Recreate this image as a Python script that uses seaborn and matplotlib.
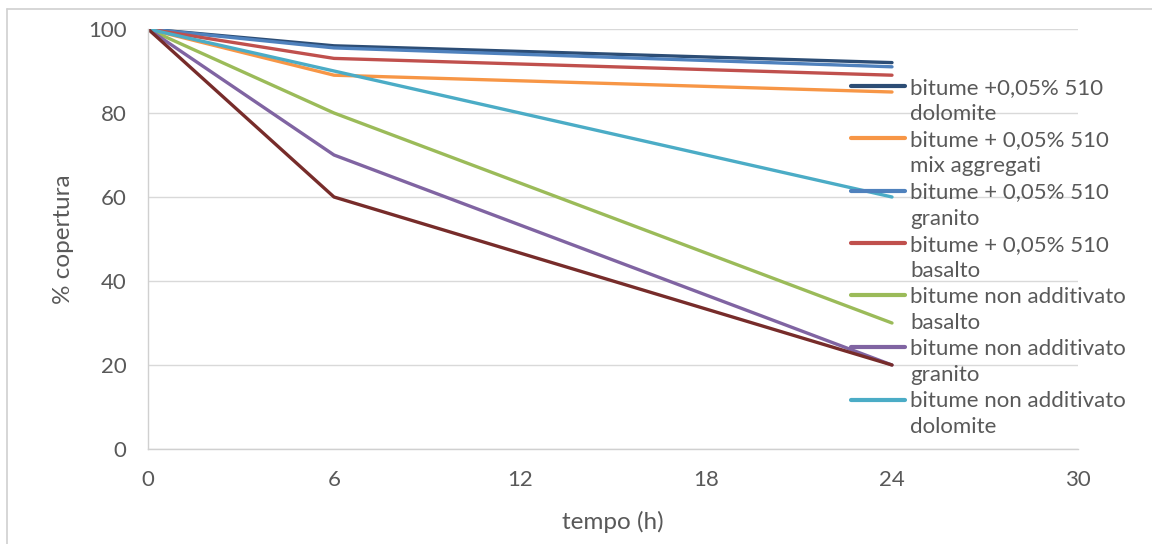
import matplotlib
matplotlib.use("Agg")
import matplotlib.pyplot as plt
import seaborn as sns
import pandas as pd
from matplotlib.lines import Line2D

# ---- data ----
tempo = [0, 6, 24]
series_names = [
    "bitume +0,05% 510\ndolomite",
    "bitume + 0,05% 510\nmix aggregati",
    "bitume + 0,05% 510\ngranito",
    "bitume + 0,05% 510\nbasalto",
    "bitume non additivato\nbasalto",
    "bitume non additivato\ngranito",
    "bitume non additivato\ndolomite",
    "bitume non additivato\nmix aggregati",
]
add_dolomite = [100, 96, 92]
add_mix = [100, 89, 85]
add_granito = [100, 95.5, 91]
add_basalto = [100, 93, 89]
non_basalto = [100, 80, 30]
non_granito = [100, 70, 20]
non_dolomite = [100, 90, 60]
non_mix = [100, 60, 20]
values = [add_dolomite, add_mix, add_granito, add_basalto,
          non_basalto, non_granito, non_dolomite, non_mix]
colors = ["#2C4D75", "#F79646", "#4F81BD", "#C0504D",
          "#9BBB59", "#8064A2", "#4BACC6", "#772C2A"]
x_ticks = [0, 6, 12, 18, 24, 30]
y_ticks = [0, 20, 40, 60, 80, 100]

rows = []
for name, vals in zip(series_names, values):
    for t, v in zip(tempo, vals):
        rows.append({"tempo": t, "copertura": v, "serie": name})
df = pd.DataFrame(rows)

sns.set_theme(style="white")
plt.rcParams["font.family"] = ["Lato", "DejaVu Sans"]

W, H = 1152, 544
fig = plt.figure(figsize=(W / 100, H / 100), dpi=100)
ax = fig.add_axes([148 / W, 1 - 449 / H, (1078 - 148) / W, (449 - 29) / H])

sns.lineplot(data=df, x="tempo", y="copertura", hue="serie",
             hue_order=series_names, palette=colors, linewidth=2.4,
             legend=False, ax=ax, sort=False)

ax.set_xlim(0, 30)
ax.set_ylim(0, 100)
ax.set_xticks(x_ticks)
ax.set_yticks(y_ticks)
ax.yaxis.grid(True, color="#D9D9D9", linewidth=1.0)
ax.xaxis.grid(False)
ax.set_axisbelow(True)
for s in ["top", "right"]:
    ax.spines[s].set_visible(False)
for s in ["left", "bottom"]:
    ax.spines[s].set_color("#D0D0D0")
    ax.spines[s].set_linewidth(1.0)
ax.tick_params(axis="both", length=0, labelsize=16, colors="#595959")
ax.tick_params(axis="y", pad=15.5)
ax.tick_params(axis="x", pad=15)
ax.set_xlabel("tempo (h)", fontsize=17.5, color="#595959", labelpad=15)
ax.set_ylabel("% copertura", fontsize=17.5, color="#595959", labelpad=10)

# legend (first 7 series, two-line labels with handle on first line)
handles, labels = [], []
for name, col in zip(series_names[:7], colors[:7]):
    l1, l2 = name.split("\n")
    handles.append(Line2D([], [], color=col, linewidth=3))
    labels.append(l1)
    handles.append(Line2D([], [], color="none", linewidth=0))
    labels.append(l2)
leg = fig.legend(handles, labels, loc="upper left",
                 bbox_to_anchor=(851 / W, 1 - 78 / H), frameon=False,
                 fontsize=16, handlelength=2.45, handletextpad=0.22,
                 labelspacing=0.275, borderpad=0, borderaxespad=0)
for t in leg.get_texts():
    t.set_color("#595959")

# chart frame
fig.add_artist(Line2D([7 / W, 7 / W], [0, 1 - 9 / H], color="#D0D0D0",
                      linewidth=1.2, transform=fig.transFigure))
fig.add_artist(Line2D([7 / W, 1], [1 - 9 / H, 1 - 9 / H], color="#D0D0D0",
                      linewidth=1.2, transform=fig.transFigure))

fig.savefig("out.png", dpi=100)
